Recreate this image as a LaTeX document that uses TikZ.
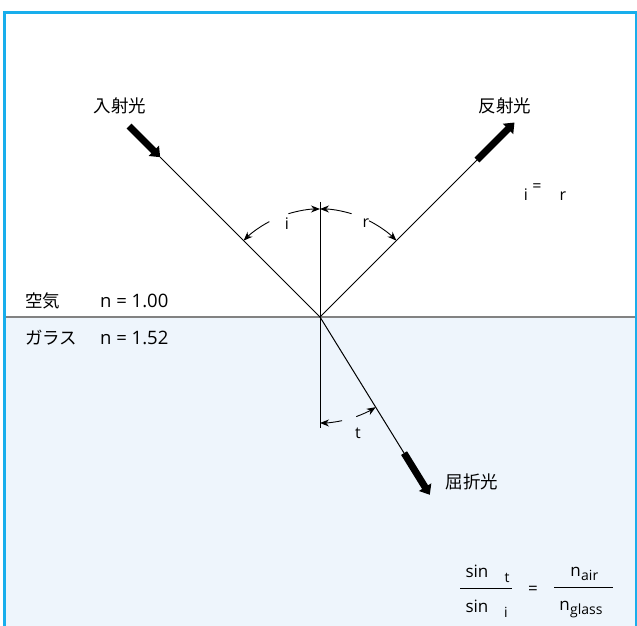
\documentclass[tikz,border=0pt]{standalone}
\usepackage{fontspec}
\setmainfont{Open Sans}
\newfontfamily\cjk{Noto Sans CJK JP}
\usetikzlibrary{arrows.meta}
\definecolor{framec}{RGB}{24,174,236}
\definecolor{glassc}{RGB}{238,245,252}
\definecolor{surfc}{RGB}{130,130,130}
\begin{document}
\begin{tikzpicture}[x=1pt,y=1pt,
  lbl/.style={font=\cjk\fontsize{17.5}{19}\selectfont, inner sep=0pt},
  num/.style={font=\fontsize{17}{19}\selectfont, inner sep=0pt},
  med/.style={font=\fontsize{18.5}{20}\selectfont, inner sep=0pt},
  sml/.style={font=\fontsize{16}{18}\selectfont, inner sep=0pt},
  sub/.style={font=\fontsize{14}{16}\selectfont, inner sep=0pt},
  ray/.style={line width=1pt},
  thickray/.style={line width=7pt, -{Triangle[length=9pt,width=14pt]}},
  angarrow/.style={line width=0.9pt, -{Stealth[length=9pt,width=7pt]}},
  fracline/.style={line width=0.9pt}]
\useasboundingbox (0,0) rectangle (637,626);
% glass region
\fill[glassc] (6,0) rectangle (635,309);
% frame
\draw[framec, line width=3pt] (4.5,0) -- (4.5,613.5) -- (636,613.5) -- (636,0);
% surface
\draw[surfc, line width=1.3pt] (6,309) -- (634.5,309);
\coordinate (O) at (320,309);
% normal
\coordinate (Ntop) at (320,424);
\coordinate (Nbot) at (320,198);
\draw[line width=0.9pt] (Ntop) -- (Nbot);
% rays
\coordinate (Iend) at ([shift={(135:226)}]O);
\coordinate (Istart) at ([shift={(135:270)}]O);
\coordinate (Rend) at ([shift={(45:222)}]O);
\coordinate (Rtip) at ([shift={(45:275)}]O);
\coordinate (Tend) at ([shift={(301.7:160)}]O);
\coordinate (Ttip) at ([shift={(301.7:209)}]O);
\draw[ray] (O) -- (Iend);
\draw[ray] (O) -- (Rend);
\draw[ray] (O) -- (Tend);
\draw[thickray] (Istart) -- (Iend);
\draw[thickray] (Rend) -- (Rtip);
\draw[thickray] (Tend) -- (Ttip);
% angle arcs
\draw[angarrow] ([shift={(107:108)}]O) arc[start angle=107,end angle=90,radius=108];
\draw[angarrow] ([shift={(118:108)}]O) arc[start angle=118,end angle=135,radius=108];
\draw[angarrow] ([shift={(73:108)}]O) arc[start angle=73,end angle=90,radius=108];
\draw[angarrow] ([shift={(63:108)}]O) arc[start angle=63,end angle=45,radius=108];
\draw[angarrow] ([shift={(282:106)}]O) arc[start angle=282,end angle=270,radius=106];
\draw[angarrow] ([shift={(290:106)}]O) arc[start angle=290,end angle=301.7,radius=106];
\node[sml] (li) at (287,402) {i};
\node[sml] (lr) at (366,403) {r};
\node[sml] (lt) at (358,193) {t};
% ray labels
\node[lbl] (inc) at (120,520) {入射光};
\node[lbl] (refl) at (505,520) {反射光};
\node[lbl] (refr) at (472,144) {屈折光};
% media labels
\node[lbl, anchor=west] (air) at (25,325) {空気};
\node[med, anchor=west] (nair) at (100,325) {n = 1.00};
\node[lbl, anchor=west] (gl) at (25,288) {ガラス};
\node[med, anchor=west] (ngl) at (100,288) {n = 1.52};
% i = r
\node[sml] (ei) at (526,431) {i};
\node[sml] (eeq) at (537,438) {=};
\node[sml] (er) at (563,430) {r};
% formula
\node[num] (s1) at (477,55) {sin};
\node[sub] (s1t) at (507,48) {t};
\draw[fracline] (460,38) -- (512,38);
\node[num] (s2) at (477,20) {sin};
\node[sub] (s2i) at (506,14) {i};
\node[num] (feq) at (533,36) {=};
\draw[fracline] (554,39) -- (613,39);
\node[num, anchor=base east] (na) at (581,49) {n};
\node[sub, anchor=base west] (nas) at (581,45) {air};
\node[num, anchor=base east] (ng) at (570,15) {n};
\node[sub, anchor=base west] (ngs) at (570,11) {glass};
\end{tikzpicture}
\end{document}
